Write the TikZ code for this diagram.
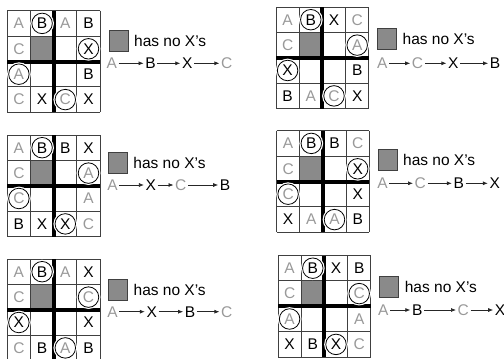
\documentclass[tikz,border=0pt]{standalone}
\usepackage{fontspec}
\setmainfont{Liberation Sans}
\usetikzlibrary{arrows.meta}
\definecolor{lgray}{HTML}{999999}
\definecolor{cellfill}{HTML}{8A8A8A}
\definecolor{gline}{HTML}{404040}
\tikzset{
 lett/.style={font=\fontsize{15.5}{18}\selectfont, inner sep=0pt},
 lb/.style={lett, text=black},
 lg/.style={lett, text=lgray},
 circ/.style={circle, draw=black, line width=0.8pt, fill=white, minimum size=20.5pt, inner sep=0pt, preaction={draw=white, line width=3.2pt}},
 gl/.style={draw=gline, line width=1pt},
 thk/.style={draw=black, line width=4pt},
 keybox/.style={draw=gline, line width=0.9pt, fill=cellfill, minimum width=19pt, minimum height=21pt, inner sep=0pt},
 keytxt/.style={lett, anchor=west},
 arr/.style={draw=black!85, line width=0.7pt, -{Latex[length=5pt,width=4pt]}, shorten <=1.5pt, shorten >=1.5pt},
 board/.style={x=23.2pt, y=-25.4pt},
}
\newcommand\boardbase{%
  \fill[cellfill] (1,1) rectangle (2,2);
  \foreach \i in {0,...,4}{\draw[gl] (\i,0)--(\i,4); \draw[gl] (0,\i)--(4,\i);}
  \draw[thk] (2,0)--(2,4);
  \draw[thk] (0,2)--(4,2);
}
\newcommand\bn[5]{\node[#2] (#1) at ({#3-0.5},{#4-0.5}) {#5};}
\begin{document}
\begin{tikzpicture}[x=1pt,y=-1pt]
\useasboundingbox (0,0) rectangle (504,359);

% ---------- board 1 ----------
\begin{scope}[shift={(7.3,10.7)},board]
\boardbase
\bn{g1r1c1}{lg}{1}{1}{A}
\bn{g1r1c2}{lb,circ}{2}{1}{B}
\bn{g1r1c3}{lg}{3}{1}{A}
\bn{g1r1c4}{lb}{4}{1}{B}
\bn{g1r2c1}{lg}{1}{2}{C}
\bn{g1r2c4}{lb,circ}{4}{2}{X}
\bn{g1r3c1}{lg,circ}{1}{3}{A}
\bn{g1r3c4}{lb}{4}{3}{B}
\bn{g1r4c1}{lg}{1}{4}{C}
\bn{g1r4c2}{lb}{2}{4}{X}
\bn{g1r4c3}{lg,circ}{3}{4}{C}
\bn{g1r4c4}{lb}{4}{4}{X}
\end{scope}
\node[keybox] (k1) at (118.5,41) {};
\node[keytxt] (t1) at ([xshift=5.5pt]k1.east) {has no X's};
\node[lg] (s1a) at (111.7,63.3) {A};
\node[lb] (s1b) at (150.5,63.3) {B};
\node[lb] (s1c) at (187.2,63.3) {X};
\node[lg] (s1d) at (226.7,63.3) {C};
\draw[arr] (s1a) -- (s1b);
\draw[arr] (s1b) -- (s1c);
\draw[arr] (s1c) -- (s1d);

% ---------- board 2 ----------
\begin{scope}[shift={(276,7)},board]
\boardbase
\bn{g2r1c1}{lg}{1}{1}{A}
\bn{g2r1c2}{lb,circ}{2}{1}{B}
\bn{g2r1c3}{lb}{3}{1}{X}
\bn{g2r1c4}{lg}{4}{1}{C}
\bn{g2r2c1}{lg}{1}{2}{C}
\bn{g2r2c4}{lg,circ}{4}{2}{A}
\bn{g2r3c1}{lb,circ}{1}{3}{X}
\bn{g2r3c4}{lb}{4}{3}{B}
\bn{g2r4c1}{lb}{1}{4}{B}
\bn{g2r4c2}{lg}{2}{4}{A}
\bn{g2r4c3}{lg,circ}{3}{4}{C}
\bn{g2r4c4}{lb}{4}{4}{X}
\end{scope}
\node[keybox] (k2) at (387,38.5) {};
\node[keytxt] (t2) at ([xshift=5.5pt]k2.east) {has no X's};
\node[lg] (s2a) at (382.2,63.3) {A};
\node[lg] (s2b) at (417.5,63.3) {C};
\node[lb] (s2c) at (453.3,63.3) {X};
\node[lb] (s2d) at (495,63.3) {B};
\draw[arr] (s2a) -- (s2b);
\draw[arr] (s2b) -- (s2c);
\draw[arr] (s2c) -- (s2d);

% ---------- board 3 ----------
\begin{scope}[shift={(7.3,135)},board]
\boardbase
\bn{g3r1c1}{lg}{1}{1}{A}
\bn{g3r1c2}{lb,circ}{2}{1}{B}
\bn{g3r1c3}{lb}{3}{1}{B}
\bn{g3r1c4}{lb}{4}{1}{X}
\bn{g3r2c1}{lg}{1}{2}{C}
\bn{g3r2c4}{lg,circ}{4}{2}{A}
\bn{g3r3c1}{lg,circ}{1}{3}{C}
\bn{g3r3c4}{lg}{4}{3}{A}
\bn{g3r4c1}{lb}{1}{4}{B}
\bn{g3r4c2}{lb}{2}{4}{X}
\bn{g3r4c3}{lb,circ}{3}{4}{X}
\bn{g3r4c4}{lg}{4}{4}{C}
\end{scope}
\node[keybox] (k3) at (117.8,162.8) {};
\node[keytxt] (t3) at ([xshift=5.5pt]k3.east) {has no X's};
\node[lg] (s3a) at (112.5,185) {A};
\node[lb] (s3b) at (150.8,185) {X};
\node[lg] (s3c) at (180.8,185) {C};
\node[lb] (s3d) at (225,185) {B};
\draw[arr] (s3a) -- (s3b);
\draw[arr] (s3b) -- (s3c);
\draw[arr] (s3c) -- (s3d);

% ---------- board 4 ----------
\begin{scope}[shift={(276.5,130.7)},board]
\boardbase
\bn{g4r1c1}{lg}{1}{1}{A}
\bn{g4r1c2}{lb,circ}{2}{1}{B}
\bn{g4r1c3}{lb}{3}{1}{B}
\bn{g4r1c4}{lg}{4}{1}{C}
\bn{g4r2c1}{lg}{1}{2}{C}
\bn{g4r2c4}{lb,circ}{4}{2}{X}
\bn{g4r3c1}{lg,circ}{1}{3}{C}
\bn{g4r3c4}{lb}{4}{3}{X}
\bn{g4r4c1}{lb}{1}{4}{X}
\bn{g4r4c2}{lg}{2}{4}{A}
\bn{g4r4c3}{lg,circ}{3}{4}{A}
\bn{g4r4c4}{lb}{4}{4}{B}
\end{scope}
\node[keybox] (k4) at (387.5,159.7) {};
\node[keytxt] (t4) at ([xshift=5.5pt]k4.east) {has no X's};
\node[lg] (s4a) at (382.5,183.3) {A};
\node[lg] (s4b) at (420.3,183.3) {C};
\node[lb] (s4c) at (458.7,183.3) {B};
\node[lb] (s4d) at (494.7,183.3) {X};
\draw[arr] (s4a) -- (s4b);
\draw[arr] (s4b) -- (s4c);
\draw[arr] (s4c) -- (s4d);

% ---------- board 5 ----------
\begin{scope}[shift={(7.3,259)},board]
\boardbase
\bn{g5r1c1}{lg}{1}{1}{A}
\bn{g5r1c2}{lb,circ}{2}{1}{B}
\bn{g5r1c3}{lg}{3}{1}{A}
\bn{g5r1c4}{lb}{4}{1}{X}
\bn{g5r2c1}{lg}{1}{2}{C}
\bn{g5r2c4}{lg,circ}{4}{2}{C}
\bn{g5r3c1}{lb,circ}{1}{3}{X}
\bn{g5r3c4}{lb}{4}{3}{X}
\bn{g5r4c1}{lg}{1}{4}{C}
\bn{g5r4c2}{lb}{2}{4}{B}
\bn{g5r4c3}{lg,circ}{3}{4}{A}
\bn{g5r4c4}{lb}{4}{4}{B}
\end{scope}
\node[keybox] (k5) at (118,290) {};
\node[keytxt] (t5) at ([xshift=5.5pt]k5.east) {has no X's};
\node[lg] (s5a) at (112.5,311.7) {A};
\node[lb] (s5b) at (151.7,311.7) {X};
\node[lb] (s5c) at (190,311.7) {B};
\node[lg] (s5d) at (226.7,311.7) {C};
\draw[arr] (s5a) -- (s5b);
\draw[arr] (s5b) -- (s5c);
\draw[arr] (s5c) -- (s5d);

% ---------- board 6 ----------
\begin{scope}[shift={(278,255.5)},board]
\boardbase
\bn{g6r1c1}{lg}{1}{1}{A}
\bn{g6r1c2}{lb,circ}{2}{1}{B}
\bn{g6r1c3}{lb}{3}{1}{X}
\bn{g6r1c4}{lb}{4}{1}{B}
\bn{g6r2c1}{lg}{1}{2}{C}
\bn{g6r2c4}{lg,circ}{4}{2}{C}
\bn{g6r3c1}{lg,circ}{1}{3}{A}
\bn{g6r3c4}{lg}{4}{3}{A}
\bn{g6r4c1}{lb}{1}{4}{X}
\bn{g6r4c2}{lb}{2}{4}{B}
\bn{g6r4c3}{lb,circ}{3}{4}{X}
\bn{g6r4c4}{lg}{4}{4}{C}
\end{scope}
\node[keybox] (k6) at (389.2,286.7) {};
\node[keytxt] (t6) at ([xshift=5.5pt]k6.east) {has no X's};
\node[lg] (s6a) at (383.3,310) {A};
\node[lb] (s6b) at (417.2,310) {B};
\node[lg] (s6c) at (463.3,310) {C};
\node[lb] (s6d) at (500,310) {X};
\draw[arr] (s6a) -- (s6b);
\draw[arr] (s6b) -- (s6c);
\draw[arr] (s6c) -- (s6d);
\end{tikzpicture}
\end{document}
